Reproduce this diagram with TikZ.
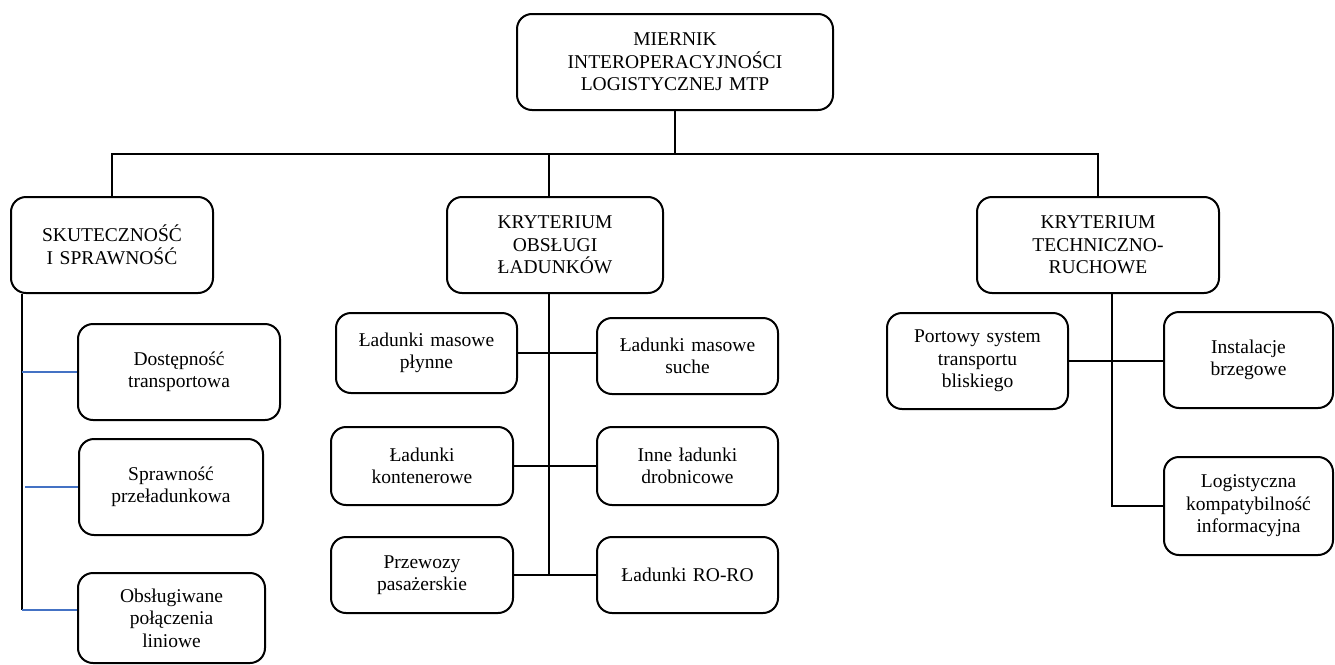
\documentclass[tikz,border=0pt]{standalone}
\usepackage{fontspec}
\setmainfont{Liberation Serif}
\definecolor{tickblue}{RGB}{68,114,196}

\tikzset{
  box/.style = {draw, rounded corners=15pt, line width=2pt, align=center,
                inner sep=0pt, font=\fontsize{19.5}{22.5}\selectfont},
  link/.style = {line width=1.6pt},
  tick/.style = {line width=1.6pt, tickblue}
}

\begin{document}
\begin{tikzpicture}[x=1pt, y=-1pt]
    \useasboundingbox (0,0) rectangle (1335,664);

    % Vertices
    \node[box, text width=316, minimum height=96] (root) at (675,62)
        {MIERNIK\\INTEROPERACYJNOŚCI\\LOGISTYCZNEJ MTP};

    \node[box, text width=202, minimum height=96] (skut) at (112,245)
        {SKUTECZNOŚĆ\\I SPRAWNOŚĆ};
    \node[box, text width=216, minimum height=96] (obsl) at (555,245)
        {KRYTERIUM\\OBSŁUGI\\ŁADUNKÓW};
    \node[box, text width=242, minimum height=96] (tech) at (1098,245)
        {KRYTERIUM\\TECHNICZNO-\\RUCHOWE};

    % 1 | skutecznosc
    \node[box, text width=202, minimum height=96] (dost) at (179,372)
        {Dostępność\\transportowa};
    \node[box, text width=184, minimum height=96] (spraw) at (171,487)
        {Sprawność\\przeładunkowa};
    \node[box, text width=187, minimum height=90] (linie) at (171.5,618)
        {Obsługiwane\\połączenia\\liniowe};

    % 2 | ladunki
    \node[box, text width=181, minimum height=80] (plyn) at (426.5,353)
        {Ładunki masowe\\płynne};
    \node[box, text width=181, minimum height=76] (such) at (687.5,356)
        {Ładunki masowe\\suche};
    \node[box, text width=182, minimum height=78] (kont) at (422,466)
        {Ładunki\\kontenerowe};
    \node[box, text width=181, minimum height=78] (inne) at (687.5,466)
        {Inne ładunki\\drobnicowe};
    \node[box, text width=182, minimum height=76] (przew) at (422,575)
        {Przewozy\\pasażerskie};
    \node[box, text width=181, minimum height=76] (roro) at (687.5,575)
        {Ładunki RO-RO};

    % 3 | techniczno-ruchowe
    \node[box, text width=181, minimum height=96] (port) at (977.5,361)
        {Portowy system\\transportu\\bliskiego};
    \node[box, text width=169, minimum height=96] (inst) at (1248.5,360)
        {Instalacje\\brzegowe};
    \node[box, text width=169, minimum height=98] (logi) at (1248.5,506)
        {Logistyczna\\kompatybilność\\informacyjna};

    % Edges
    \draw[link] (root.south) -- ++(0,43) coordinate (bus);
    \draw[link] (skut.north) -- (skut.north |- bus) -| (tech.north);
    \draw[link] ([xshift=-6]obsl.north) -- ([xshift=-6]obsl.north |- bus);

    % left bar
    \coordinate (skbar) at ([xshift=12]skut.south west);
    \draw[link] (skbar) -- ([yshift=8]skbar |- linie.west);
    \draw[tick] (skbar |- dost.west) -- (dost.west);
    \draw[tick] ([xshift=3]skbar |- spraw.west) -- (spraw.west);
    \draw[tick] ([yshift=8]skbar |- linie.west) -- ([yshift=8]linie.west);

    % middle bar
    \draw[link] ([xshift=-6]obsl.south) -- ([xshift=-6]obsl.south |- przew.east);
    \draw[link] (plyn.east) -- (plyn.east -| such.west);
    \draw[link] (kont.east) -- (inne.west);
    \draw[link] (przew.east) -- (roro.west);

    % right bar
    \draw[link] ([xshift=14]tech.south) |- (logi.west);
    \draw[link] (port.east) -- (port.east -| inst.west);

\end{tikzpicture}
\end{document}
